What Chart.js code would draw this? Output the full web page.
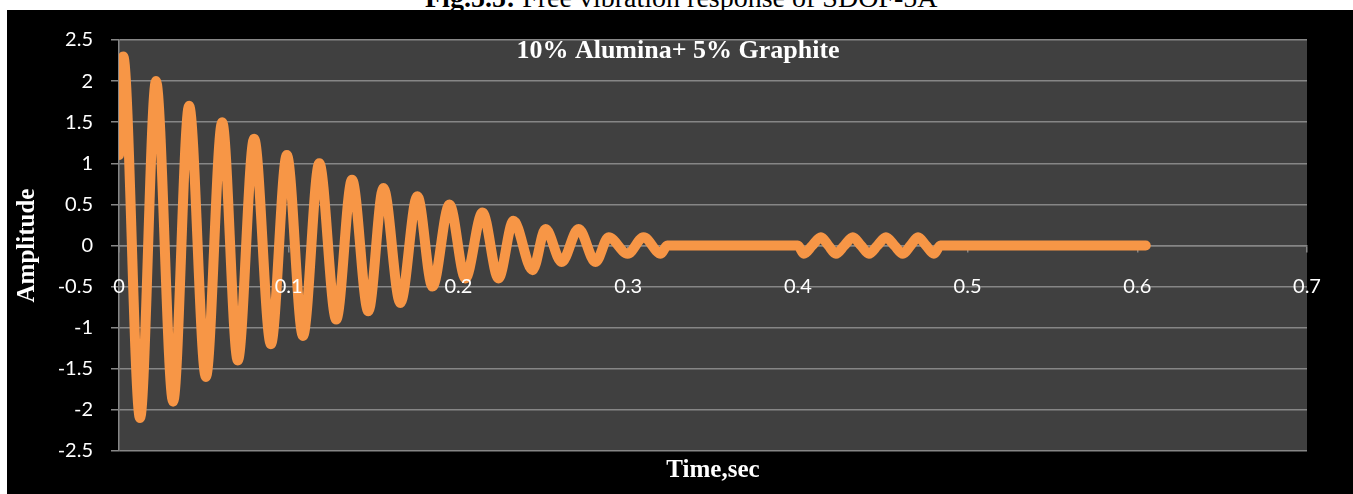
<!DOCTYPE html>
<html>
<head>
<meta charset="utf-8">
<script src="https://cdn.jsdelivr.net/npm/chart.js@4.4.0/dist/chart.umd.min.js"></script>
<style>
  html, body { margin: 0; padding: 0; background: #fff; width: 1353px; height: 494px; overflow: hidden; position: relative; }
  #fig { position: absolute; left: 425px; top: -16px; font: 28px/1 "Liberation Serif", serif; color: #000; white-space: nowrap; }
  #box { position: absolute; left: 7px; top: 10px; width: 1346px; height: 484px; background: #000; }
</style>
</head>
<body>
<div id="fig"><b>Fig.5.5:</b> Free vibration response of SDOF-5A</div>
<div id="box"><canvas id="c"></canvas></div>
<script>
// values (time in s, amplitude)
const times = [0, 0.0025, 0.0124, 0.0218, 0.0319, 0.0413, 0.0512, 0.0608, 0.0700, 0.0796, 0.0895, 0.0989,
  0.1084, 0.1180, 0.1280, 0.1373, 0.1469, 0.1558, 0.1658, 0.1758, 0.1847, 0.1947,
  0.2041, 0.2142, 0.2236, 0.2324, 0.2437, 0.2513, 0.2608, 0.2708, 0.2808, 0.2885,
  0.2997, 0.3091, 0.3192, 0.3230,
  0.4000, 0.4035, 0.4085, 0.4136, 0.4180, 0.4224, 0.4274, 0.4324, 0.4372, 0.4419,
  0.4469, 0.4519, 0.4569, 0.4619, 0.4664, 0.4708, 0.4755, 0.4802, 0.4840, 0.6050];
const amps = [1.1, 2.3, -2.1, 2.0, -1.9, 1.7, -1.6, 1.5, -1.4, 1.3, -1.2, 1.1,
  -1.1, 1.0, -0.9, 0.8, -0.8, 0.7, -0.7, 0.6, -0.5, 0.5,
  -0.4, 0.4, -0.4, 0.3, -0.3, 0.2, -0.2, 0.2, -0.2, 0.1,
  -0.1, 0.1, -0.1, 0,
  0, -0.1, 0, 0.1, 0, -0.1, 0, 0.1, 0, -0.1,
  0, 0.1, 0, -0.1, 0, 0.1, 0, -0.1, 0, 0];

const chartTitle = '10% Alumina+ 5% Graphite';
const xTitle = 'Time,sec';
const yTitle = 'Amplitude';

const gridColor = '#868686';
const tickFont = { family: 'Lato', size: 20 };
const titleFont = { family: 'Liberation Serif', size: 25, weight: 'bold' };
const fmt = v => String(Number(v.toFixed(2)));

const plotBg = {
  id: 'plotBg',
  beforeDraw(chart) {
    const { ctx, chartArea: a } = chart;
    ctx.save();
    ctx.fillStyle = '#404040';
    ctx.fillRect(a.left, a.top, a.right - a.left, a.bottom - a.top);
    ctx.restore();
  },
  afterDraw(chart) {
    const { ctx, chartArea: a } = chart;
    ctx.save();
    ctx.fillStyle = '#fff';
    ctx.font = 'bold 26px "Liberation Serif"';
    ctx.textAlign = 'center';
    ctx.textBaseline = 'middle';
    ctx.fillText(chartTitle, 671, a.top + 11);
    ctx.restore();
  }
};

const ctx = document.getElementById('c').getContext('2d');
new Chart(ctx, {
  type: 'line',
  data: {
    datasets: [{
      data: times.map((t, i) => ({ x: t, y: amps[i] })),
      borderColor: '#F79646',
      borderWidth: 10,
      borderCapStyle: 'round',
      borderJoinStyle: 'round',
      pointRadius: 0,
      cubicInterpolationMode: 'monotone'
    }]
  },
  options: {
    responsive: true,
    maintainAspectRatio: false,
    animation: false,
    layout: { padding: { top: 28, right: 46, left: 0, bottom: 0 } },
    plugins: { legend: { display: false }, tooltip: { enabled: false } },
    scales: {
      x: {
        type: 'linear',
        min: 0,
        max: 0.7,
        position: { y: 0 },
        ticks: { stepSize: 0.1, display: false, autoSkip: false },
        grid: { drawOnChartArea: false, tickLength: 6, color: gridColor, lineWidth: 1.5 },
        border: { color: gridColor, width: 1.5 }
      },
      xl: {
        type: 'linear',
        min: 0,
        max: 0.7,
        position: { y: 0 },
        ticks: { z: 1, stepSize: 0.1, color: '#fff', font: tickFont, padding: 29, maxRotation: 0, autoSkip: false, callback: fmt },
        grid: { display: false, drawTicks: false },
        border: { display: false }
      },
      x2: {
        type: 'linear',
        position: 'bottom',
        min: 0,
        max: 0.7,
        ticks: { display: false },
        grid: { display: false },
        border: { display: false },
        title: { display: true, text: xTitle, color: '#fff', font: titleFont, padding: { top: 8, bottom: 8 } },
        afterFit(s) { s.height = 43; }
      },
      y: {
        min: -2.5,
        max: 2.5,
        ticks: { stepSize: 0.5, color: '#fff', font: tickFont, padding: 18, callback: fmt },
        grid: { color: gridColor, lineWidth: 1.5, tickLength: 8 },
        border: { color: gridColor, width: 1.5 },
        title: { display: true, text: yTitle, color: '#fff', font: titleFont, padding: 6 },
        afterFit(s) { s.width = 112; }
      }
    }
  },
  plugins: [plotBg]
});
</script>
</body>
</html>
